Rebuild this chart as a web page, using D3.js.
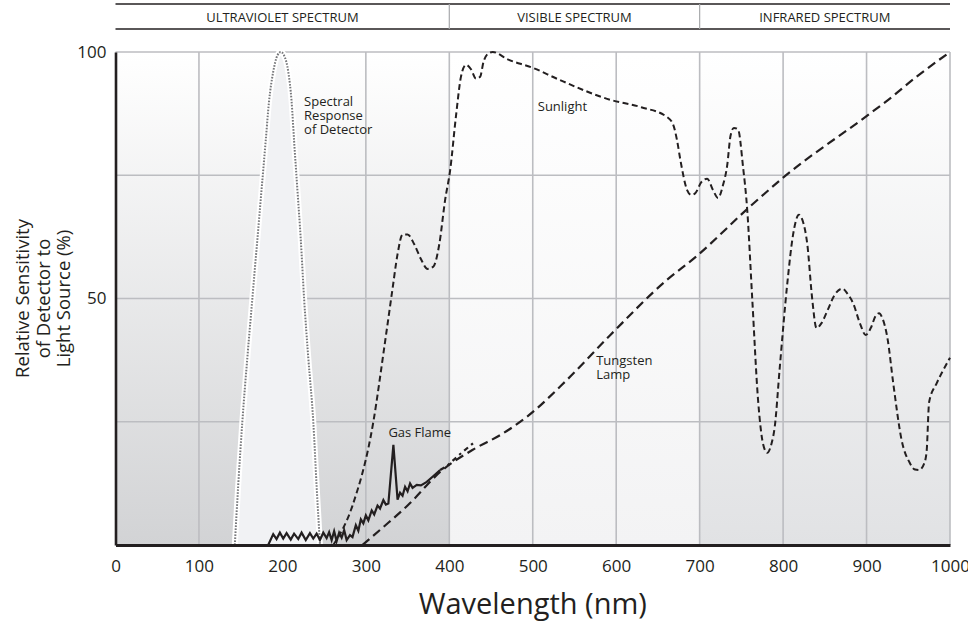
<!DOCTYPE html>
<html>
<head>
<meta charset="utf-8">
<script src="https://cdn.jsdelivr.net/npm/d3@7"></script>
<style>
  body { margin: 0; background: #fff; }
  text { font-family: "Open Sans", sans-serif; fill: #231f20; }
</style>
</head>
<body>
<svg id="chart" width="968" height="622"></svg>
<script>
// spectrum bands along the top of the chart (nm)
var bands = [
  {name: "ULTRAVIOLET SPECTRUM", from: 0, to: 400},
  {name: "VISIBLE SPECTRUM", from: 400, to: 700},
  {name: "INFRARED SPECTRUM", from: 700, to: 1000}
];
var xTicks = [0, 100, 200, 300, 400, 500, 600, 700, 800, 900, 1000];
var yTicks = [50, 100];
var yGrid = [25, 50, 75, 100];

// [wavelength nm, relative sensitivity %]
var detector = [[143,0],[147,12],[152,25],[158,38],[164,50],[170,62],[175,72],[180,82],[184,90],[189,96],[194,99.3],[198,100],
  [202,99.3],[207,96],[211,90],[214,82],[218,72],[222,62],[226,50],[231,38],[237,25],[241,12],[245,0]];

var sunlight = [[261,0],[284,8],[309,25],[322,40],[332,52],[338,59],[344,63],[350,63],[358,61],[366,58],[374,56],[381,56.5],
  [388,61],[395,70],[401,76],[408,87],[414,95],[420,97.4],[426,96.5],[432,94.6],[437,95],[441,98],[446,99.6],[452,100],
  [470,98.5],[500,96.8],[530,94.5],[593,90.3],[630,88.8],[661,86.8],[668,85.4],[673,82],[677,78],[685,72],[690,71],
  [695,71.4],[702,73.6],[709,74.3],[716,72],[722,70.4],[728,73],[733,77],[737,83],[741,84.6],[746,84.3],[752,76.7],
  [757,68],[763,50],[770,29.4],[776,20.5],[781,18.7],[786,20.5],[790,24],[796,36],[805,53],[812,63],[819,67],[823,66],
  [829,61],[835,49.7],[840,44],[846,45],[853,47.5],[862,50.8],[871,52],[877,51],[884,49],[892,45],[899,42.6],[905,44],
  [911,46.5],[915,47],[919,46],[925,42],[932,32.8],[942,21.3],[952,16.6],[958,15.3],[963,15.2],[969,16.5],[972,19],
  [975,29],[984,32.8],[992,35.5],[1000,38]];

var tungsten = [[296,0],[320,3.5],[350,8],[389,14.8],[430,19.5],[461,22.3],[493,26],[541,33.5],[593,42.6],[661,53.8],
  [695,58.4],[760,68.6],[800,74.5],[900,87],[926,90.3],[960,95],[1000,100]];

var gasFlame = [[183,0],[189,2.2],[193,1.2],[197,2.5],[201,1.3],[205,2.4],[210,1.1],[214,2.3],[219,1.2],[223,2.5],[228,1],
  [233,2.4],[237,1.3],[241,2.3],[245,1],[249,2.5],[253,1.4],[256,2.6],[259,1],[262,2.8],[265,0.8],[268,2.5],[271,1.5],
  [274,3],[277,1],[281,2],[284,1.6],[288,4],[291,2.9],[294,5.2],[297,4.4],[300,6],[303,5],[307,7],[310,6.2],[314,8],
  [317,7.4],[321,9.1],[324,8.2],[327,8.4],[333,20.3],[338,9.2],[341,10.6],[344,10],[347,11.8],[350,10.9],[353,12.5],
  [356,11.6],[361,12.2],[366,12.1],[373,12.8],[381,14],[389,15.2]];
var gasFlameTail = [[389,15.2],[397,16],[412,18.3],[431,21]];

var labels = [
  {lines: ["Spectral", "Response", "of Detector"], at: [226, 89]},
  {lines: ["Sunlight"], at: [506, 88]},
  {lines: ["Gas Flame"], at: [327, 22]},
  {lines: ["Tungsten", "Lamp"], at: [576, 36.5]}
];

var svg = d3.select("#chart");
var x = d3.scaleLinear().domain([0, 1000]).range([115.5, 950]);
var y = d3.scaleLinear().domain([0, 100]).range([545, 52]);

var shades = {"ULTRAVIOLET SPECTRUM": "#d2d3d5", "VISIBLE SPECTRUM": "#f3f3f4", "INFRARED SPECTRUM": "#e1e2e4"};
var defs = svg.append("defs");
bands.forEach(function(b, i){
  var g = defs.append("linearGradient").attr("id", "bg" + i)
    .attr("x1", 0).attr("y1", 0).attr("x2", 0).attr("y2", 1);
  g.append("stop").attr("offset", "0%").attr("stop-color", "#ffffff");
  g.append("stop").attr("offset", "100%").attr("stop-color", shades[b.name]);
});

svg.selectAll("rect.band").data(bands).enter().append("rect")
  .attr("class", "band")
  .attr("x", function(d){ return x(d.from); })
  .attr("y", y(100))
  .attr("width", function(d){ return x(d.to) - x(d.from); })
  .attr("height", y(0) - y(100))
  .attr("fill", function(d, i){ return "url(#bg" + i + ")"; });

// grid
svg.append("g").selectAll("line").data(xTicks.slice(1)).enter().append("line")
  .attr("x1", function(d){ return x(d); }).attr("x2", function(d){ return x(d); })
  .attr("y1", y(100)).attr("y2", y(0))
  .attr("stroke", "#bcbdc1").attr("stroke-width", 1.6);
svg.append("g").selectAll("line").data(yGrid).enter().append("line")
  .attr("x1", x(0)).attr("x2", x(1000))
  .attr("y1", function(d){ return y(d); }).attr("y2", function(d){ return y(d); })
  .attr("stroke", "#bcbdc1").attr("stroke-width", 1.6);

// header with spectrum names
var head = svg.append("g");
head.append("line").attr("x1", x(0)).attr("x2", x(1000)).attr("y1", 4).attr("y2", 4)
  .attr("stroke", "#231f20").attr("stroke-width", 1.6);
head.append("line").attr("x1", x(0)).attr("x2", x(1000)).attr("y1", 29).attr("y2", 29)
  .attr("stroke", "#231f20").attr("stroke-width", 1.6);
head.selectAll("line.sep").data(bands.slice(1)).enter().append("line")
  .attr("class", "sep")
  .attr("x1", function(d){ return x(d.from); }).attr("x2", function(d){ return x(d.from); })
  .attr("y1", 4).attr("y2", 29)
  .attr("stroke", "#a7a9ac").attr("stroke-width", 1.2);
head.selectAll("text").data(bands).enter().append("text")
  .attr("x", function(d){ return (x(d.from) + x(d.to)) / 2; })
  .attr("y", 21.5)
  .attr("text-anchor", "middle")
  .style("font-size", "13px")
  .text(function(d){ return d.name; });

// curves
var smooth = d3.line().x(function(d){ return x(d[0]); }).y(function(d){ return y(d[1]); }).curve(d3.curveMonotoneX);
var straight = d3.line().x(function(d){ return x(d[0]); }).y(function(d){ return y(d[1]); });

svg.append("path").datum(detector).attr("d", smooth)
  .attr("fill", "#f1f2f4").attr("stroke", "#ffffff").attr("stroke-width", 6);
svg.append("path").datum(detector).attr("d", smooth)
  .attr("fill", "none").attr("stroke", "#77787b").attr("stroke-width", 2)
  .attr("stroke-dasharray", "1.6,1.4");

svg.append("path").datum(tungsten).attr("d", smooth)
  .attr("fill", "none").attr("stroke", "#231f20").attr("stroke-width", 2.2)
  .attr("stroke-dasharray", "9,5");

svg.append("path").datum(sunlight).attr("d", smooth)
  .attr("fill", "none").attr("stroke", "#231f20").attr("stroke-width", 2)
  .attr("stroke-dasharray", "6,3.5");

svg.append("path").datum(gasFlame).attr("d", straight)
  .attr("fill", "none").attr("stroke", "#231f20").attr("stroke-width", 2.2)
  .attr("stroke-linejoin", "miter");
svg.append("path").datum(gasFlameTail).attr("d", straight)
  .attr("fill", "none").attr("stroke", "#231f20").attr("stroke-width", 2.2)
  .attr("stroke-dasharray", "5,4,2.5,4");

// axes
var xAxis = svg.append("g").attr("transform", "translate(0," + y(0) + ")")
  .call(d3.axisBottom(x).tickValues(xTicks).tickFormat(d3.format("d")).tickSize(0).tickPadding(15));
xAxis.select(".domain").attr("stroke", "#231f20").attr("stroke-width", 3);
xAxis.selectAll("text").style("font-size", "17px").attr("fill", "#231f20");

var yAxis = svg.append("g").attr("transform", "translate(" + x(0) + ",0)")
  .call(d3.axisLeft(y).tickValues(yTicks).tickSize(0).tickPadding(9));
yAxis.select(".domain").attr("stroke", "#231f20").attr("stroke-width", 2.6);
yAxis.selectAll("text").style("font-size", "17px").attr("fill", "#231f20");

svg.append("text")
  .attr("x", (x(0) + x(1000)) / 2).attr("y", 614)
  .attr("text-anchor", "middle")
  .style("font-size", "29px")
  .text("Wavelength (nm)");

var yTitle = ["Relative Sensitivity", "of Detector to", "Light Source (%)"];
svg.append("g").attr("transform", "translate(29," + y(50) + ") rotate(-90)")
  .selectAll("text").data(yTitle).enter().append("text")
  .attr("x", 0).attr("y", function(d, i){ return i * 20.5; })
  .attr("text-anchor", "middle")
  .style("font-size", "18.5px")
  .text(function(d){ return d; });

// curve labels, one text per line
labels.forEach(function(l){
  l.lines.forEach(function(s, i){
    svg.append("text").style("font-size", "13px")
      .attr("x", x(l.at[0])).attr("y", y(l.at[1]) + i * 14).text(s);
  });
});
</script>
</body>
</html>
